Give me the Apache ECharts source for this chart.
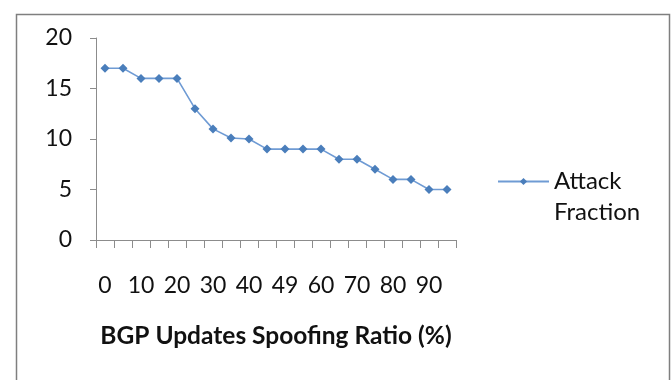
<!DOCTYPE html>
<html>
<head>
<meta charset="utf-8">
<script src="https://cdn.jsdelivr.net/npm/echarts@6/dist/echarts.min.js"></script>
<style>
  html, body { margin: 0; padding: 0; background: #fff; }
  #chart { width: 671px; height: 380px; }
</style>
</head>
<body>
<div id="chart"></div>
<script>
// Spoofing ratio categories (%), as labelled along the x axis
const ratios = ['0', '5', '10', '15', '20', '25', '30', '35', '40', '45',
                '49', '55', '60', '65', '70', '75', '80', '85', '90', '95'];
// Attack fraction for each ratio
const attackFraction = [17, 17, 16, 16, 16, 13, 11, 10.1, 10, 9,
                        9, 9, 9, 8, 8, 7, 6, 6, 5, 5];
const yTicks = { min: 0, max: 20, step: 5 };

const FONT = 'Lato, "Open Sans", sans-serif';
const AXIS_GRAY = '#8c8c8c';
const MARKER_BLUE = '#4a7ebb';
const LINE_BLUE = '#6f9bd4';

const chart = echarts.init(document.getElementById('chart'), null, { renderer: 'canvas' });

chart.setOption({
  animation: false,
  backgroundColor: '#fff',
  textStyle: { fontFamily: FONT },
  graphic: [{
    type: 'rect',
    left: 14, top: 12,
    shape: { width: 653, height: 380 },
    style: { fill: 'none', stroke: '#7f7f7f', lineWidth: 1.5 },
    silent: true
  }],
  grid: { left: 96, right: 215, top: 38, bottom: 140, containLabel: false },
  legend: {
    left: 492, top: 130,
    orient: 'vertical',
    itemWidth: 51, itemHeight: 9,
    // blank first line keeps the legend line level with "Attack"
    formatter: () => '\u00a0\nAttack\nFraction',
    textStyle: {
      fontFamily: FONT, fontSize: 24, color: '#111', lineHeight: 31
    },
    data: ['Attack Fraction']
  },
  xAxis: {
    type: 'category',
    data: ratios,
    boundaryGap: true,
    name: 'BGP Updates Spoofing Ratio (%)',
    nameLocation: 'middle',
    nameGap: 84,
    nameTextStyle: { fontFamily: FONT, fontSize: 24.5, fontWeight: 'bold', color: '#111' },
    axisLine: { lineStyle: { color: AXIS_GRAY, width: 1 } },
    axisTick: { show: true, alignWithLabel: false, interval: 0, length: 8, lineStyle: { color: AXIS_GRAY } },
    axisLabel: { interval: 1, margin: 34, fontFamily: FONT, fontSize: 23, color: '#111' },
    splitLine: { show: false }
  },
  yAxis: {
    type: 'value',
    min: yTicks.min, max: yTicks.max, interval: yTicks.step,
    axisLine: { show: true, lineStyle: { color: AXIS_GRAY, width: 1 } },
    axisTick: { show: true, length: 6, lineStyle: { color: AXIS_GRAY } },
    axisLabel: { margin: 24, fontFamily: FONT, fontSize: 23, color: '#111' },
    splitLine: { show: false }
  },
  series: [{
    name: 'Attack Fraction',
    type: 'line',
    data: attackFraction,
    symbol: 'diamond',
    symbolSize: 9,
    showAllSymbol: true,
    itemStyle: { color: MARKER_BLUE },
    lineStyle: { color: LINE_BLUE, width: 1.6 }
  }]
});
</script>
</body>
</html>
